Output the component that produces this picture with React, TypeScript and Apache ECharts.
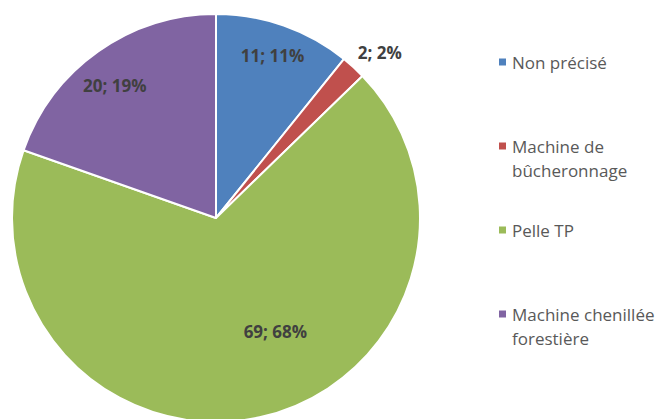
import React, { useEffect, useRef } from "react";
import * as echarts from "echarts";

const categories = ["Non précisé", "Machine de bûcheronnage", "Pelle TP", "Machine chenillée forestière"];
const legendLabels = ["Non précisé", "\nMachine de\nbûcheronnage", "Pelle TP", "\nMachine chenillée\nforestière"];
const values = [11, 2, 69, 20];
const percents = [11, 2, 68, 19];
const colors = ["#4F81BD", "#C0504D", "#9BBB59", "#8064A2"];

export default function App() {
  const ref = useRef<HTMLDivElement>(null);
  useEffect(() => {
    const chart = echarts.init(ref.current!, null, { renderer: "svg" });
    const data = categories.map((name, i) => ({
      name,
      value: values[i],
      itemStyle: { color: colors[i] },
    }));
    const labelData = categories.map((name, i) => ({
      name,
      value: values[i],
      label:
        i === 1
          ? { position: "outside" as const }
          : { position: "inside" as const },
    }));
    chart.setOption({
      animation: false,
      backgroundColor: "#ffffff",
      legend: {
        orient: "vertical",
        left: 497,
        top: 50,
        padding: 0,
        itemGap: 36,
        itemWidth: 9,
        itemHeight: 9,
        icon: "rect",
        data: categories,
        formatter: (name: string) => legendLabels[categories.indexOf(name)],
        textStyle: {
          fontFamily: "Open Sans",
          fontSize: 17,
          lineHeight: 24,
          color: "#595959",
        },
      },
      series: [
        {
          type: "pie",
          center: [216, 218],
          radius: [0, 204],
          startAngle: 90,
          clockwise: true,
          silent: true,
          label: { show: false },
          labelLine: { show: false },
          itemStyle: { borderColor: "#ffffff", borderWidth: 2 },
          data,
        },
        {
          type: "pie",
          center: [216, 218],
          radius: [130, 204],
          startAngle: 90,
          clockwise: true,
          silent: true,
          itemStyle: { color: "rgba(0,0,0,0)", borderWidth: 0 },
          labelLine: { show: false, length: 5, length2: 0 },
          label: {
            show: true,
            fontFamily: "Open Sans",
            fontWeight: "bold",
            fontSize: 17,
            color: "#404040",
            formatter: (p: any) => `${p.value}; ${percents[p.dataIndex]}%`,
          },
          labelLayout: (p: any) => {
            if (p.dataIndex === 2) return { dx: 23, dy: -53 };
            if (p.dataIndex === 1) return { dx: -4, dy: -11 };
            if (p.dataIndex === 3) return { dx: -3, dy: 6 };
            return { dy: -2 };
          },
          data: labelData,
        },
      ],
    });
    return () => chart.dispose();
  }, []);
  return <div ref={ref} style={{ width: 665, height: 419, position: "absolute", left: 0, top: 0 }} />;
}
